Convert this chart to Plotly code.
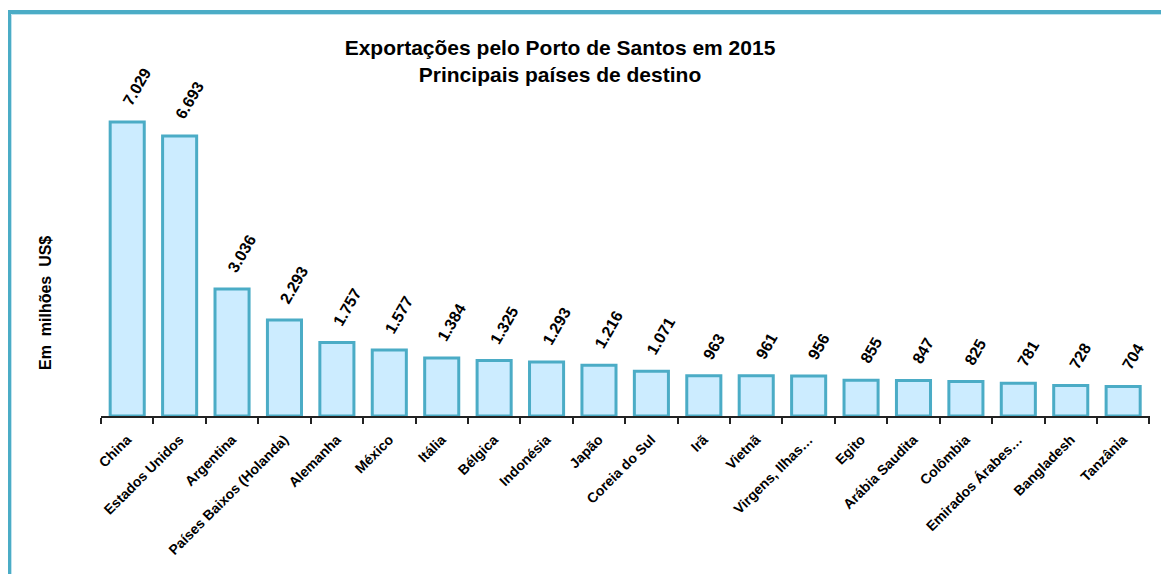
import plotly.graph_objects as go

categories = ["China", "Estados Unidos", "Argentina", "Países Baixos (Holanda)", "Alemanha",
              "México", "Itália", "Bélgica", "Indonésia", "Japão", "Coreia do Sul", "Irã",
              "Vietnã", "Virgens, Ilhas…", "Egito", "Arábia Saudita", "Colômbia",
              "Emirados Árabes…", "Bangladesh", "Tanzânia"]
values = [7029, 6693, 3036, 2293, 1757, 1577, 1384, 1325, 1293, 1216, 1071, 963,
          961, 956, 855, 847, 825, 781, 728, 704]
title_lines = ["Exportações pelo Porto de Santos em 2015", "Principais países de destino"]
y_title = "Em  milhões  US$"

# page body has an 8px margin: figure coordinates = screen coordinates - 8
OFF = 8
W, H = 1169 - OFF, 574 - OFF
ML, MR, MB = 101 - OFF, 19, 158
PH = 356
MT = H - MB - PH
PW = W - ML - MR
YMAX = 8511

FONT = "Liberation Sans, Arial, sans-serif"
EDGE = "#4BACC6"
FILL = "#CCECFF"

def fmt(v):
    return f"{v:,}".replace(",", ".")

def px_x(sx):
    return (sx - OFF - ML) / PW

def px_y(sy):
    return (H - MB - (sy - OFF)) / PH

fig = go.Figure()
fig.add_trace(go.Bar(
    x=categories, y=values,
    marker=dict(color=FILL, line=dict(color=EDGE, width=3)),
    hoverinfo="x+y",
))

for c, v in zip(categories, values):
    fig.add_annotation(
        x=c, y=v, xref="x", yref="y", text="<b>" + fmt(v) + "</b>",
        showarrow=False, textangle=-60, xanchor="center", yanchor="bottom",
        xshift=10, yshift=11, font=dict(family=FONT, size=16, color="black"),
    )

fig.add_annotation(
    x=px_x(45), y=px_y(303), xref="paper", yref="paper",
    text="<b>" + y_title + "</b>", showarrow=False, textangle=-90,
    xanchor="center", yanchor="middle", font=dict(family=FONT, size=16, color="black"),
)

# outer frame
fig.add_shape(type="rect", xref="paper", yref="paper",
              x0=px_x(9), x1=px_x(1250), y0=px_y(650), y1=px_y(12),
              line=dict(color=EDGE, width=4), fillcolor="rgba(0,0,0,0)", layer="above")
fig.add_shape(type="rect", xref="paper", yref="paper",
              x0=px_x(11.5), x1=px_x(1250), y0=px_y(650), y1=px_y(14.5),
              line=dict(color="#BFE3EE", width=1), fillcolor="rgba(0,0,0,0)", layer="above")

fig.update_layout(
    width=W, height=H,
    margin=dict(l=ML, r=MR, t=MT, b=MB),
    paper_bgcolor="white", plot_bgcolor="white",
    bargap=0.35,
    showlegend=False,
    title=dict(
        text="<b>" + title_lines[0] + "<br>" + title_lines[1] + "</b>",
        x=px_x(560), xref="paper", xanchor="center",
        y=1 - (55 - OFF) / H, yref="container", yanchor="middle",
        font=dict(family=FONT, size=21, color="black"),
    ),
    xaxis=dict(
        type="category", showline=True, linecolor="#222222", linewidth=2,
        ticks="outside", tickson="boundaries", ticklen=6, tickwidth=1.5, tickcolor="#222222",
        tickangle=-45, ticklabelstandoff=8,
        tickfont=dict(family=FONT, size=14, color="black", weight="bold"),
        showgrid=False, zeroline=False,
    ),
    yaxis=dict(range=[0, YMAX], visible=False, showgrid=False, zeroline=False),
)

fig.write_html("out.html")
